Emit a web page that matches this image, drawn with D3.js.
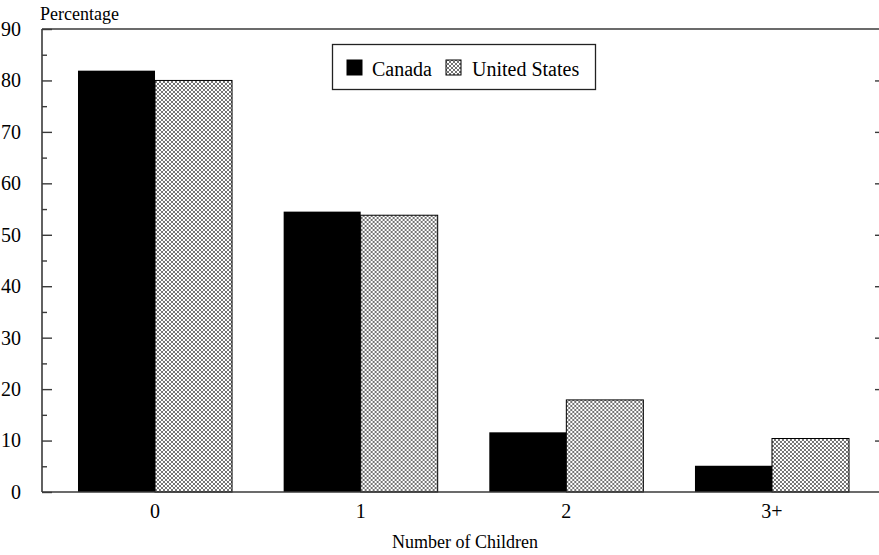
<!DOCTYPE html>
<html>
<head>
<meta charset="utf-8">
<script src="https://cdn.jsdelivr.net/npm/d3@7"></script>
<style>
  html, body { margin: 0; padding: 0; background: #fff; }
  svg { display: block; }
</style>
</head>
<body>
<svg id="chart" width="879" height="555"></svg>
<script>
// Share of households by number of children
const categories = ["0", "1", "2", "3+"];
const seriesNames = ["Canada", "United States"];
const canada = [81.9, 54.5, 11.6, 5.1];
const unitedStates = [80.0, 53.8, 17.9, 10.4];
const majorTicks = [0, 10, 20, 30, 40, 50, 60, 70, 80, 90];
const minorTicks = [5, 15, 25, 35, 45, 55, 65, 75, 85];

const FONT = '"Liberation Serif", "Times New Roman", Times, serif';

const svg = d3.select("#chart");
const frame = { left: 42, right: 885, top: 29, bottom: 492 };

const x = d3.scaleBand()
  .domain(categories)
  .range([frame.left, frame.right])
  .paddingInner(0.251)
  .paddingOuter(0.175);

const xSeries = d3.scaleBand()
  .domain(seriesNames)
  .range([0, x.bandwidth()]);

const y = d3.scaleLinear()
  .domain([0, 90])
  .range([frame.bottom, frame.top]);

// cross-hatch fill
const defs = svg.append("defs");
const pat = defs.append("pattern")
  .attr("id", "hatch")
  .attr("patternUnits", "userSpaceOnUse")
  .attr("width", 4).attr("height", 4);
pat.append("rect").attr("width", 4).attr("height", 4).attr("fill", "#fff");
pat.append("path")
  .attr("d", "M0,0L4,4M4,0L0,4")
  .attr("stroke", "#000")
  .attr("stroke-width", 0.55)
  .attr("fill", "none");

const fills = { "Canada": "#000", "United States": "url(#hatch)" };

const rows = categories.map((c, i) => ({
  category: c,
  values: [
    { series: "Canada", value: canada[i] },
    { series: "United States", value: unitedStates[i] }
  ]
}));

// bars
const groups = svg.append("g")
  .selectAll("g")
  .data(rows)
  .join("g")
  .attr("transform", d => `translate(${x(d.category)},0)`);

groups.selectAll("rect")
  .data(d => d.values)
  .join("rect")
  .attr("x", d => xSeries(d.series))
  .attr("y", d => y(d.value))
  .attr("width", xSeries.bandwidth())
  .attr("height", d => y(0) - y(d.value))
  .attr("fill", d => fills[d.series])
  .attr("stroke", d => d.series === "Canada" ? "none" : "#000")
  .attr("stroke-width", 1);

// frame lines
const axisColor = "#3a3a3a";
const axes = svg.append("g").attr("stroke", axisColor).attr("stroke-width", 1.6).attr("fill", "none");
axes.append("line").attr("x1", frame.left).attr("x2", frame.left).attr("y1", frame.top).attr("y2", frame.bottom);
axes.append("line").attr("x1", frame.right).attr("x2", frame.right).attr("y1", frame.top).attr("y2", frame.bottom);
axes.append("line").attr("x1", frame.left).attr("x2", frame.right).attr("y1", frame.top).attr("y2", frame.top);
axes.append("line").attr("x1", frame.left).attr("x2", frame.right).attr("y1", frame.bottom).attr("y2", frame.bottom);

// left axis: inward ticks with labels
const leftAxis = d3.axisLeft(y).tickValues(majorTicks).tickSizeInner(-10).tickSizeOuter(0).tickPadding(21);
const gl = svg.append("g").attr("transform", `translate(${frame.left},0)`).call(leftAxis)
  .attr("font-family", FONT).attr("font-size", 20);
gl.select(".domain").remove();
gl.selectAll(".tick line").attr("stroke", axisColor).attr("stroke-width", 1.4);
gl.selectAll(".tick text").attr("fill", "#000");

const leftMinor = d3.axisLeft(y).tickValues(minorTicks).tickSizeInner(-5).tickSizeOuter(0).tickFormat("");
const glm = svg.append("g").attr("transform", `translate(${frame.left},0)`).call(leftMinor);
glm.select(".domain").remove();
glm.selectAll(".tick line").attr("stroke", axisColor).attr("stroke-width", 1.4);

// right axis: inward ticks, no labels
const rightAxis = d3.axisRight(y).tickValues(majorTicks.slice(1, -1)).tickSizeInner(-10).tickSizeOuter(0).tickFormat("");
const gr = svg.append("g").attr("transform", `translate(${frame.right},0)`).call(rightAxis);
gr.select(".domain").remove();
gr.selectAll(".tick line").attr("stroke", axisColor).attr("stroke-width", 1.4);

// category labels
const bottomAxis = d3.axisBottom(x).tickSize(0).tickPadding(12);
const gb = svg.append("g").attr("transform", `translate(0,${frame.bottom})`).call(bottomAxis)
  .attr("font-family", FONT).attr("font-size", 20);
gb.select(".domain").remove();
gb.selectAll(".tick text").attr("fill", "#000");

// axis titles
svg.append("text")
  .attr("x", 40).attr("y", 20)
  .attr("font-family", FONT).attr("font-size", 18)
  .text("Percentage");

svg.append("text")
  .attr("x", 465).attr("y", 548)
  .attr("text-anchor", "middle")
  .attr("font-family", FONT).attr("font-size", 18)
  .text("Number of Children");

// legend
const legend = svg.append("g");
legend.append("rect")
  .attr("x", 332.5).attr("y", 44.5)
  .attr("width", 263).attr("height", 45)
  .attr("fill", "#fff")
  .attr("stroke", "#222")
  .attr("stroke-width", 1.3);

const legendItems = [
  { name: "Canada", box: 347, text: 372 },
  { name: "United States", box: 446, text: 472 }
];
legendItems.forEach(it => {
  legend.append("rect")
    .attr("x", it.box).attr("y", 60)
    .attr("width", 15).attr("height", 15)
    .attr("fill", fills[it.name])
    .attr("stroke", "#000")
    .attr("stroke-width", 1);
  legend.append("text")
    .attr("x", it.text).attr("y", 75.5)
    .attr("font-family", FONT).attr("font-size", 20)
    .attr("fill", "#000")
    .text(it.name);
});
</script>
</body>
</html>
